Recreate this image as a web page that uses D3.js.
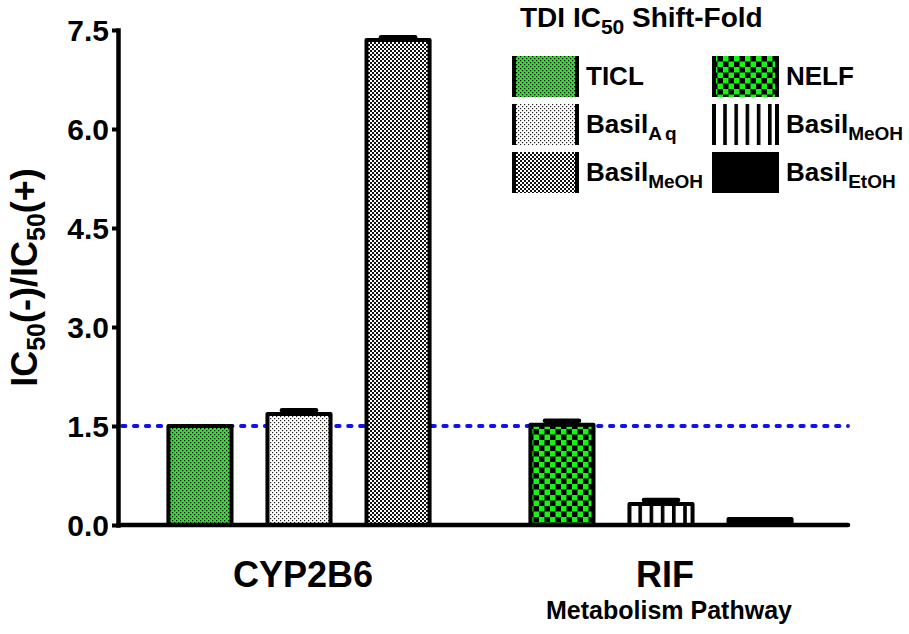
<!DOCTYPE html>
<html>
<head>
<meta charset="utf-8">
<script src="https://cdn.jsdelivr.net/npm/d3@7"></script>
<style>
  body { margin: 0; background: #fff; }
  svg { display: block; }
  text { font-family: "Liberation Sans", Arial, sans-serif; font-weight: bold; fill: #000; }
</style>
</head>
<body>
<svg id="chart" width="909" height="634"></svg>
<script>
// Data
const groups = ["CYP2B6", "RIF"];
const barGroup = ["CYP2B6", "CYP2B6", "CYP2B6", "RIF", "RIF", "RIF"];
const barName = ["TICL", "Basil", "Basil", "NELF", "Basil", "Basil"];
const barSub = ["", "Aq", "MeOH", "", "MeOH", "EtOH"];
const barValue = [1.50, 1.68, 7.35, 1.52, 0.32, 0.09];
const barError = [0.00, 0.06, 0.04, 0.06, 0.06, 0.00];
const barFill = ["ticl", "aq", "meohDots", "nelf", "meohLines", "etoh"];
const yTicks = [0, 1.5, 3.0, 4.5, 6.0, 7.5];
const threshold = 1.5;

const svg = d3.select("#chart");
const green = "#14f514";

// Patterns
const defs = svg.append("defs");
function pattern(id, w, h) {
    return defs.append("pattern").attr("id", id)
        .attr("patternUnits", "userSpaceOnUse").attr("width", w).attr("height", h);
}
let p = pattern("ticl", 4, 4);
p.append("rect").attr("width", 4).attr("height", 4).attr("fill", green);
p.append("rect").attr("width", 1.25).attr("height", 1.25).attr("fill", "#000");
p.append("rect").attr("x", 2).attr("y", 2).attr("width", 1.25).attr("height", 1.25).attr("fill", "#000");

p = pattern("aq", 4, 4);
p.append("rect").attr("width", 4).attr("height", 4).attr("fill", "#fff");
p.append("rect").attr("width", 1.2).attr("height", 1.2).attr("fill", "#222");
p.append("rect").attr("x", 2).attr("y", 2).attr("width", 1.2).attr("height", 1.2).attr("fill", "#222");

p = pattern("meohDots", 4, 4);
p.append("rect").attr("width", 4).attr("height", 4).attr("fill", "#fff");
p.append("rect").attr("width", 2).attr("height", 2).attr("fill", "#111");
p.append("rect").attr("x", 2).attr("y", 2).attr("width", 2).attr("height", 2).attr("fill", "#111");

p = pattern("nelf", 11, 11);
p.append("rect").attr("width", 11).attr("height", 11).attr("fill", "#000");
p.append("rect").attr("width", 5.5).attr("height", 5.5).attr("fill", green);
p.append("rect").attr("x", 5.5).attr("y", 5.5).attr("width", 5.5).attr("height", 5.5).attr("fill", green);

p = pattern("meohLines", 11.2, 10);
p.append("rect").attr("width", 11.2).attr("height", 10).attr("fill", "#fff");
p.append("rect").attr("width", 3.6).attr("height", 10).attr("fill", "#000");

p = pattern("etoh", 4, 4);
p.append("rect").attr("width", 4).attr("height", 4).attr("fill", "#000");

// Scales
const y = d3.scaleLinear().domain([0, 7.5]).range([525, 30]);
const x0 = d3.scaleBand().domain(groups).range([118, 842]).paddingInner(0.18).paddingOuter(0.09);
const x1 = d3.scaleBand().domain([0, 1, 2]).range([0, x0.bandwidth()]).paddingInner(0.363).paddingOuter(0.18);
const xEnd = x0.range()[1] + 6;

const bars = barValue.map((v, i) => ({
    group: barGroup[i],
    slot: barGroup.slice(0, i).filter(g => g === barGroup[i]).length,
    value: v,
    err: barError[i],
    fill: barFill[i]
}));

// Threshold line (behind bars)
svg.append("line")
    .attr("x1", x0.range()[0] + 4).attr("x2", xEnd)
    .attr("y1", y(threshold)).attr("y2", y(threshold))
    .attr("stroke", "#1010f0").attr("stroke-width", 3.8)
    .attr("stroke-linecap", "round").attr("stroke-dasharray", "3.5 8.4");

// Bars
const barX = d => x0(d.group) + x1(d.slot);
svg.append("g").selectAll("rect").data(bars).join("rect")
    .attr("x", barX)
    .attr("y", d => y(d.value))
    .attr("width", x1.bandwidth())
    .attr("height", d => y(0) - y(d.value))
    .attr("fill", d => `url(#${d.fill})`)
    .attr("stroke", "#000").attr("stroke-width", 4)
    .attr("stroke-linejoin", "round");

// Error bars
const eb = svg.append("g").attr("stroke", "#000").attr("stroke-linecap", "round");
bars.filter(d => d.err > 0).forEach(d => {
    const cx = barX(d) + x1.bandwidth() / 2;
    const half = x1.bandwidth() * 0.27;
    eb.append("line").attr("x1", cx).attr("x2", cx)
        .attr("y1", y(d.value)).attr("y2", y(d.value + d.err)).attr("stroke-width", 4);
    eb.append("line").attr("x1", cx - half).attr("x2", cx + half)
        .attr("y1", y(d.value + d.err)).attr("y2", y(d.value + d.err)).attr("stroke-width", 4.5);
});

// Y axis
const yAxis = svg.append("g").attr("transform", `translate(${x0.range()[0]},0)`)
    .call(d3.axisLeft(y).tickValues(yTicks).tickFormat(d3.format(".1f"))
        .tickSize(6).tickSizeOuter(0).tickPadding(3));
yAxis.select(".domain").attr("stroke-width", 4.5).attr("stroke-linecap", "square");
yAxis.selectAll(".tick line").attr("stroke-width", 4);
yAxis.selectAll(".tick text").style("font-size", "30px").attr("dy", "0.36em");

// Baseline
svg.append("line")
    .attr("x1", x0.range()[0]).attr("x2", xEnd)
    .attr("y1", y(0)).attr("y2", y(0))
    .attr("stroke", "#000").attr("stroke-width", 4.5).attr("stroke-linecap", "round");

// Y label
const yl = svg.append("text")
    .attr("transform", `translate(37,${(y(0) + y(7.5)) / 2}) rotate(-90)`)
    .attr("text-anchor", "middle").style("font-size", "36px");
yl.append("tspan").text("IC");
yl.append("tspan").attr("dy", 8).style("font-size", "25px").text("50");
yl.append("tspan").attr("dy", -8).text("(-)/IC");
yl.append("tspan").attr("dy", 8).style("font-size", "25px").text("50");
yl.append("tspan").attr("dy", -8).text("(+)");

// Group labels
svg.append("g").selectAll("text").data(groups).join("text")
    .attr("x", g => x0(g) + x0.bandwidth() / 2 + 4)
    .attr("y", 587)
    .attr("text-anchor", "middle")
    .style("font-size", "36px")
    .text(g => g);
svg.append("text")
    .attr("x", x0("RIF") + x0.bandwidth() / 2 + 8)
    .attr("y", 619)
    .attr("text-anchor", "middle")
    .style("font-size", "25px")
    .text("Metabolism Pathway");

// Legend
const title = svg.append("text").attr("x", 520).attr("y", 27).style("font-size", "28px");
title.append("tspan").text("TDI IC");
title.append("tspan").attr("dy", 7).style("font-size", "21px").text("50");
title.append("tspan").attr("dy", -7).text(" Shift-Fold");

const legend = svg.append("g").attr("transform", "translate(512,56)");
bars.forEach((d, i) => {
    const col = groups.indexOf(d.group);
    const row = d.slot;
    const g = legend.append("g").attr("transform", `translate(${col * 200},${row * 48})`);
    g.append("rect").attr("width", 67).attr("height", 41).attr("fill", `url(#${d.fill})`);
    g.append("line").attr("x1", 2).attr("x2", 2).attr("y1", 0).attr("y2", 41)
        .attr("stroke", "#000").attr("stroke-width", 4);
    g.append("line").attr("x1", 65).attr("x2", 65).attr("y1", 0).attr("y2", 41)
        .attr("stroke", "#000").attr("stroke-width", 4);
    const t = g.append("text").attr("x", 74).attr("y", 29).style("font-size", "26px");
    t.append("tspan").text(barName[i]);
    if (barSub[i]) {
        t.append("tspan").attr("dy", 7).style("font-size", "19px")
            .style("letter-spacing", barSub[i] === "Aq" ? "3px" : "0px").text(barSub[i]);
    }
});
</script>
</body>
</html>
